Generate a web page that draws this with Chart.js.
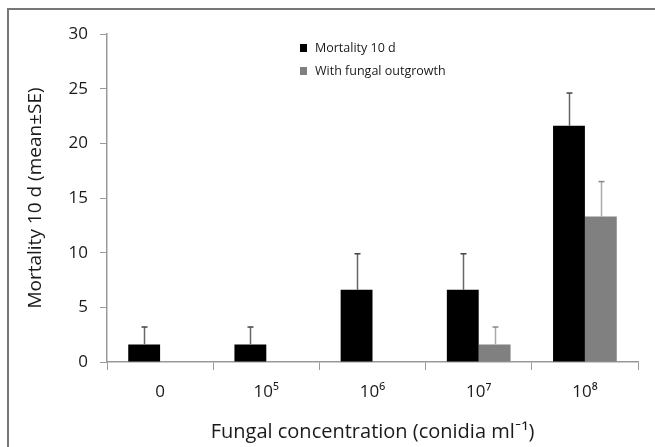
<!DOCTYPE html>
<html>
<head>
<meta charset="utf-8">
<script src="https://cdn.jsdelivr.net/npm/chart.js@4"></script>
<style>
  html, body { margin: 0; padding: 0; background: #fff; }
  #wrap { width: 655px; height: 447px; position: relative; }
</style>
</head>
<body>
<div id="wrap"><canvas id="myChart" width="655" height="447"></canvas></div>
<script>
// dados
const categorias = ['0', '10\u2075', '10\u2076', '10\u2077', '10\u2078'];
const mortalidade = [1.6, 1.6, 6.6, 6.6, 21.6];
const mortalidadeSE = [1.6, 1.6, 3.3, 3.3, 3.0];
const comFungo = [0, 0, 0, 1.6, 13.3];
const comFungoSE = [0, 0, 0, 1.6, 3.2];
const nomesSeries = ['Mortality 10 d', 'With fungal outgrowth'];
const ticksY = [0, 5, 10, 15, 20, 25, 30];

const fonte = '"Open Sans", Lato, sans-serif';

// barras de erro (só para cima) usando as escalas do gráfico
const errosPlugin = {
    id: 'erros',
    afterDatasetsDraw(chart) {
        const ctx = chart.ctx;
        const y = chart.scales.y;
        const erros = [mortalidadeSE, comFungoSE];
        const cores = ['#666', '#aaa'];
        chart.data.datasets.forEach((ds, i) => {
            const meta = chart.getDatasetMeta(i);
            meta.data.forEach((bar, j) => {
                const v = ds.data[j];
                const e = erros[i][j];
                if (!v) return;
                const x = Math.round(bar.x) + 0.5;
                const yTop = y.getPixelForValue(v + e);
                ctx.save();
                ctx.strokeStyle = cores[i];
                ctx.lineWidth = 1.5;
                ctx.beginPath();
                ctx.moveTo(x, bar.y);
                ctx.lineTo(x, yTop);
                ctx.stroke();
                ctx.strokeStyle = i === 0 ? '#444' : '#888';
                ctx.beginPath();
                ctx.moveTo(x - 3, yTop);
                ctx.lineTo(x + 3, yTop);
                ctx.stroke();
                ctx.restore();
            });
        });
    }
};

// legenda e moldura desenhadas à mão
const extrasPlugin = {
    id: 'extras',
    afterDraw(chart) {
        const ctx = chart.ctx;
        ctx.save();
        ctx.strokeStyle = '#777';
        ctx.lineWidth = 2;
        ctx.beginPath();
        ctx.moveTo(8, 460);
        ctx.lineTo(8, 9);
        ctx.lineTo(660, 9);
        ctx.stroke();

        ctx.font = '12.5px ' + fonte;
        ctx.textBaseline = 'middle';
        chart.data.datasets.forEach((ds, i) => {
            const yy = 48 + i * 23;
            ctx.fillStyle = ds.backgroundColor;
            ctx.fillRect(300, yy - 4, 7, 8);
            ctx.fillStyle = '#1a1a1a';
            ctx.fillText(ds.label, 315, yy);
        });
        ctx.restore();
    }
};

function criarGrafico() {
    const ctx = document.getElementById('myChart');
    new Chart(ctx, {
        type: 'bar',
        data: {
            labels: categorias,
            datasets: [{
                label: nomesSeries[0],
                data: mortalidade,
                backgroundColor: '#000000',
                categoryPercentage: 0.6,
                barPercentage: 1.0
            }, {
                label: nomesSeries[1],
                data: comFungo,
                backgroundColor: '#808080',
                categoryPercentage: 0.6,
                barPercentage: 1.0
            }]
        },
        options: {
            responsive: false,
            animation: false,
            layout: { padding: { top: 34, right: 17, left: 0, bottom: 0 } },
            plugins: {
                legend: { display: false },
                tooltip: { enabled: false }
            },
            scales: {
                x: {
                    afterFit: (s) => { s.height = 85; },
                    grid: {
                        drawOnChartArea: false,
                        tickLength: 8,
                        color: '#999'
                    },
                    border: { color: '#999', width: 1.5 },
                    ticks: {
                        color: '#1a1a1a',
                        font: { family: fonte, size: 17 },
                        padding: 12
                    },
                    title: {
                        display: true,
                        text: 'Fungal concentration (conidia ml\u207B\u00B9)',
                        color: '#1a1a1a',
                        font: { family: fonte, size: 20 },
                        padding: { top: 0, bottom: 3 }
                    }
                },
                y: {
                    min: 0,
                    max: 30,
                    afterFit: (s) => { s.width = 107; },
                    afterBuildTicks: (s) => { s.ticks = ticksY.map(v => ({ value: v })); },
                    grid: {
                        drawOnChartArea: false,
                        tickLength: 7,
                        color: '#999'
                    },
                    border: { color: '#999', width: 1.5 },
                    ticks: {
                        color: '#1a1a1a',
                        font: { family: fonte, size: 17 },
                        padding: 12
                    },
                    title: {
                        display: true,
                        text: 'Mortality 10 d (mean\u00B1SE)',
                        color: '#1a1a1a',
                        font: { family: fonte, size: 19 },
                        padding: { top: 24, bottom: 4 }
                    }
                }
            }
        },
        plugins: [errosPlugin, extrasPlugin]
    });
}
criarGrafico();
</script>
</body>
</html>
